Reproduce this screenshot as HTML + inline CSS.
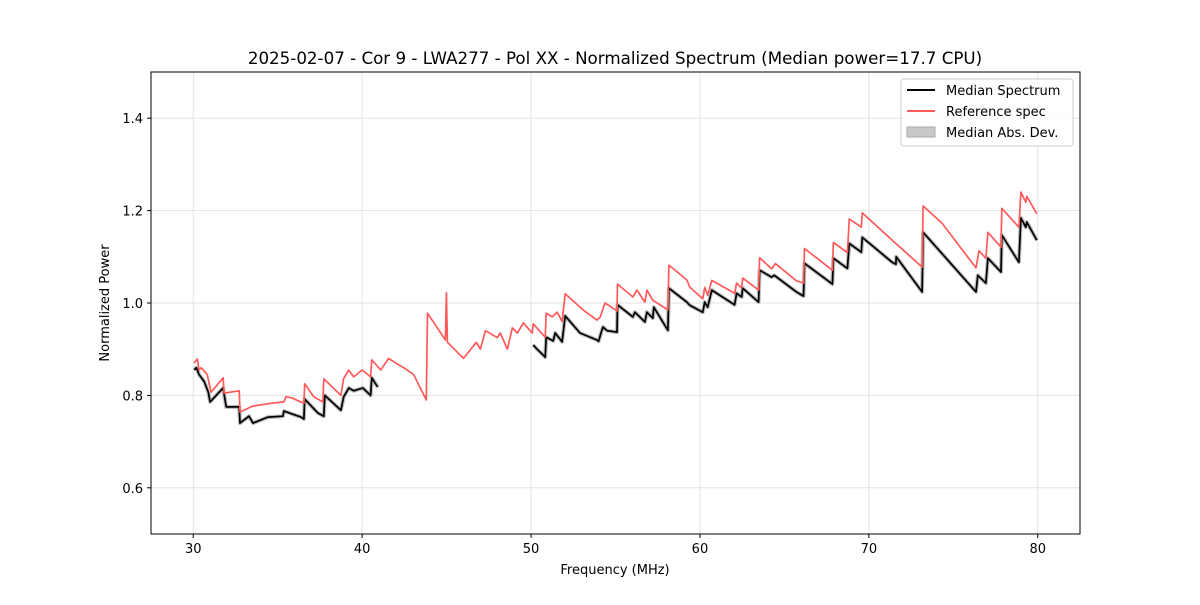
<!DOCTYPE html>
<html><head><meta charset="utf-8"><style>
body{margin:0;background:#fff;}
svg text{font-family:"DejaVu Sans","Liberation Sans",sans-serif;fill:#000;}
</style></head><body>
<svg id="chart" width="1200" height="600" viewBox="0 0 1200 600">
<rect width="1200" height="600" fill="#fff"/>
<g id="grid"></g>
<g id="band"></g>
<g id="series"></g>
<rect x="151" y="72" width="929" height="462" fill="none" stroke="#000" stroke-width="1"/>
<g id="axes"></g>
<text x="615" y="64" font-size="16.7" text-anchor="middle">2025-02-07 - Cor 9 - LWA277 - Pol XX - Normalized Spectrum (Median power=17.7 CPU)</text>
<text x="615" y="574" font-size="13" text-anchor="middle">Frequency (MHz)</text>
<text x="109" y="303" font-size="13" text-anchor="middle" transform="rotate(-90 109 303)">Normalized Power</text>
<g>
<rect x="901" y="79" width="172" height="67" rx="3" fill="#fff" fill-opacity="0.8" stroke="#ccc"/>
<line x1="907" y1="90" x2="935" y2="90" stroke="#000" stroke-width="2"/>
<text x="946" y="95" font-size="13">Median Spectrum</text>
<line x1="907" y1="111" x2="935" y2="111" stroke="#ff5a5a" stroke-width="2"/>
<text x="946" y="116" font-size="13">Reference spec</text>
<rect x="907" y="127" width="28" height="10" fill="#c8c8c8" stroke="#aaa"/>
<text x="946" y="137" font-size="13">Median Abs. Dev.</text>
</g>
</svg>
<script>
const xTicks=[30,40,50,60,70,80];
const yTicks=[0.6,0.8,1.0,1.2,1.4];
const yTickLabels=["0.6","0.8","1.0","1.2","1.4"];
const refFreq=[30.06,30.24,30.35,30.47,30.83,31.06,31.77,31.83,32.72,32.77,33.54,34.6,35.37,35.49,35.8,36.55,36.6,37.14,37.67,37.73,38.74,38.9,39.2,39.5,40.0,40.5,40.57,41.1,41.57,42.0,42.46,43.05,43.8,43.87,44.93,44.99,45.05,46.0,46.76,47.0,47.3,48.0,48.18,48.6,48.89,49.2,49.54,50.07,50.13,50.84,50.9,51.25,51.55,51.84,52.02,53.08,53.9,54.1,54.38,54.67,55.09,55.12,56.03,56.27,56.74,56.86,57.21,58.1,58.16,59.22,59.4,60.17,60.28,60.46,60.7,62.05,62.17,62.47,62.53,63.47,63.53,64.24,64.47,65.71,66.13,66.19,67.84,67.9,68.73,68.84,69.55,69.61,71.38,73.15,73.21,74.33,76.34,76.52,76.93,77.05,77.82,77.87,78.88,79.0,79.29,79.35,79.94];
const refVal=[0.87,0.879,0.855,0.86,0.845,0.807,0.838,0.805,0.81,0.764,0.777,0.783,0.786,0.797,0.795,0.783,0.825,0.797,0.786,0.836,0.80,0.836,0.855,0.84,0.855,0.84,0.877,0.855,0.88,0.87,0.86,0.845,0.79,0.978,0.92,1.022,0.915,0.88,0.915,0.90,0.94,0.925,0.935,0.90,0.946,0.935,0.957,0.935,0.955,0.926,0.978,0.97,0.98,0.96,1.02,0.985,0.963,0.97,1.0,0.993,0.983,1.041,1.013,1.028,1.002,1.028,1.006,0.985,1.082,1.05,1.034,1.009,1.034,1.017,1.049,1.021,1.043,1.032,1.054,1.028,1.098,1.074,1.085,1.048,1.043,1.118,1.071,1.131,1.109,1.182,1.164,1.195,1.136,1.078,1.21,1.173,1.076,1.113,1.097,1.153,1.121,1.205,1.164,1.24,1.218,1.231,1.193];
const medFreqA=[30.06,30.18,30.35,30.65,30.89,31.0,31.77,31.95,32.72,32.77,33.3,33.54,34.43,35.31,35.37,36.38,36.55,36.6,37.38,37.73,37.79,38.74,38.91,39.21,39.5,40.04,40.5,40.57,40.92];
const medValA=[0.855,0.86,0.845,0.83,0.807,0.786,0.816,0.775,0.775,0.74,0.755,0.74,0.753,0.755,0.766,0.753,0.749,0.792,0.762,0.755,0.80,0.768,0.797,0.816,0.81,0.816,0.80,0.838,0.818];
const medFreqB=[50.13,50.36,50.84,50.9,51.31,51.43,51.84,52.02,52.9,53.9,54.0,54.14,54.26,54.5,55.09,55.12,56.03,56.15,56.74,56.86,57.21,57.27,58.1,58.16,59.22,59.4,60.17,60.28,60.46,60.7,62.05,62.17,62.47,62.53,63.47,63.53,64.24,64.4,65.71,66.13,66.19,67.84,67.9,68.73,68.84,69.55,69.61,71.38,71.6,71.62,73.15,73.21,76.34,76.45,76.93,77.05,77.82,77.87,78.88,79.0,79.29,79.35,79.94];
const medValB=[0.909,0.90,0.883,0.926,0.918,0.935,0.916,0.972,0.935,0.92,0.917,0.935,0.948,0.94,0.937,0.996,0.97,0.98,0.959,0.98,0.967,0.991,0.941,1.032,1.002,0.995,0.98,1.002,0.991,1.028,0.996,1.021,1.013,1.032,1.002,1.071,1.056,1.06,1.024,1.015,1.086,1.041,1.097,1.075,1.129,1.11,1.142,1.088,1.084,1.1,1.024,1.153,1.024,1.06,1.043,1.097,1.067,1.147,1.088,1.184,1.164,1.175,1.136];

const X0=151,X1=1080,Y0=72,Y1=534,XMIN=27.5,XMAX=82.5,YMIN=0.5,YMAX=1.5;
const sx=f=>X0+(f-XMIN)/(XMAX-XMIN)*(X1-X0);
const sy=v=>Y1-(v-YMIN)/(YMAX-YMIN)*(Y1-Y0);
const NS="http://www.w3.org/2000/svg";
const grid=document.getElementById('grid'),axes=document.getElementById('axes');
function mk(tag,attrs,parent){const e=document.createElementNS(NS,tag);for(const k in attrs)e.setAttribute(k,attrs[k]);parent.appendChild(e);return e;}
xTicks.forEach(t=>{
 const g=mk('line',{x1:sx(t),x2:sx(t),y1:Y0,y2:Y1,stroke:'#e3e3e3','stroke-width':1},grid);
 
 
 const tk=mk('line',{x1:sx(t),x2:sx(t),y1:Y1,y2:Y1+4,stroke:'#000'},axes);
 
 
 const tx=mk('text',{x:sx(t),y:Y1+19,'font-size':13,'text-anchor':'middle'},axes);
 tx.textContent=String(t);
 
 
});
yTicks.forEach((t,i)=>{
 const g=mk('line',{x1:X0,x2:X1,y1:sy(t),y2:sy(t),stroke:'#e3e3e3','stroke-width':1},grid);
 
 
 const tk=mk('line',{x1:X0-4,x2:X0,y1:sy(t),y2:sy(t),stroke:'#000'},axes);
 
 
 const tx=mk('text',{x:X0-8,y:sy(t)+5,'font-size':13,'text-anchor':'end'},axes);
 tx.textContent=yTickLabels[i];
 
 
});
const pts=(fs,vs)=>fs.map((f,i)=>sx(f).toFixed(1)+','+sy(vs[i]).toFixed(1)).join(' ');
const band=document.getElementById('band'),ser=document.getElementById('series');
[[medFreqA,medValA],[medFreqB,medValB]].forEach(([f,v])=>{
 const b=mk('polyline',{points:pts(f,v),fill:'none',stroke:'#bbb','stroke-width':4,'stroke-linejoin':'round'},band);
 
 
});
[[medFreqA,medValA],[medFreqB,medValB]].forEach(([f,v])=>{
 const l=mk('polyline',{points:pts(f,v),fill:'none',stroke:'#000','stroke-width':1.7,'stroke-linejoin':'round'},ser);
 
 
});
const r=mk('polyline',{points:pts(refFreq,refVal),fill:'none',stroke:'#ff5a5a','stroke-width':1.7,'stroke-linejoin':'round'},ser);


</script>
</body></html>
